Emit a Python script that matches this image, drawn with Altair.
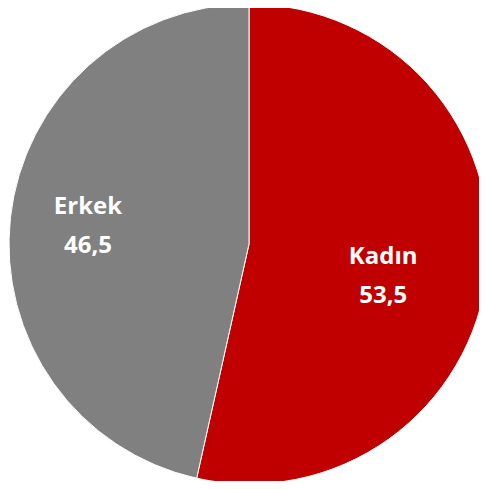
import altair as alt
import pandas as pd
import math

categories = ["Kadın", "Erkek"]
values = [53.5, 46.5]
value_labels = ["53,5", "46,5"]
colors = ["#C00000", "#808080"]

df = pd.DataFrame({
    "cat": categories,
    "val": values,
    "label": [f"{c}\n{v}" for c, v in zip(categories, value_labels)],
    "order": list(range(len(categories))),
})

theta_scale = alt.Scale(domain=[0, sum(values)], range=[0, 2 * math.pi])

pie = alt.Chart(df).mark_arc(stroke="white", strokeWidth=1, radius=240).encode(
    theta=alt.Theta("val:Q", stack=True),
    order=alt.Order("order:Q"),
    color=alt.Color("cat:N", scale=alt.Scale(domain=categories, range=colors), legend=None),
    x=alt.value(241),
    y=alt.value(236),
)

lbase = alt.Chart(df).transform_window(
    cum="sum(val)", sort=[alt.SortField("order")]
).transform_calculate(mid="datum.cum - datum.val / 2")

def lbl(name, r, dx, dy):
    return lbase.transform_filter(alt.datum.cat == name).mark_text(
        radius=r, dx=dx, dy=dy, font="Open Sans", fontWeight="bold", fontSize=24,
        color="white", lineBreak="\n", lineHeight=39, align="center", baseline="middle",
    ).encode(
        theta=alt.Theta("mid:Q", scale=theta_scale),
        text="label:N", x=alt.value(241), y=alt.value(236),
    )

chart = alt.layer(
    pie,
    lbl("Kadın", 135, 0, -2),
    lbl("Erkek", 162, 0, -19),
).resolve_scale(theta="independent").properties(
    width=471, height=473, padding=0, autosize=alt.AutoSizeParams(type="none")
).configure_view(stroke=None)

chart.save("out.html", embed_options={"renderer": "svg", "actions": False})
